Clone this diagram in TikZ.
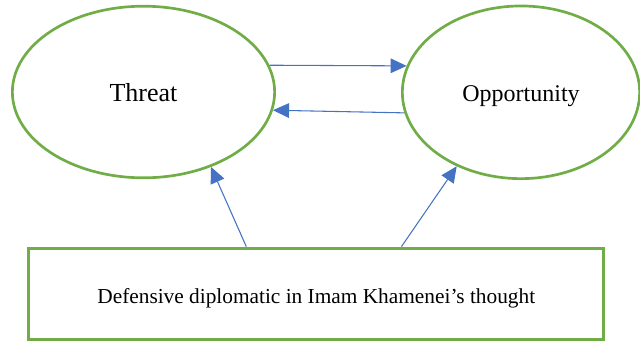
\documentclass[tikz,border=0pt]{standalone}
\usepackage{fontspec}
\setmainfont{Liberation Serif}
\usetikzlibrary{shapes.geometric,arrows.meta}
\definecolor{leafgreen}{HTML}{70AD47}
\definecolor{linkblue}{HTML}{4472C4}
\begin{document}
\begin{tikzpicture}[x=0.75pt,y=-0.75pt,
  bubble/.style={draw=leafgreen,line width=2pt,ellipse,inner sep=0pt,text depth=0pt},
  link/.style={draw=linkblue,line width=0.8pt,-{Triangle[length=12pt,width=11pt]},linkblue}]
\useasboundingbox (0,0) rectangle (640,344);
\node[bubble,minimum width=196.7pt,minimum height=128.7pt,text height=14.6pt,font=\fontsize{19.5}{22}\selectfont] (T) at (143.5,92) {Threat};
\node[bubble,minimum width=178pt,minimum height=129.5pt,text height=14pt,font=\fontsize{18}{21}\selectfont] (O) at (521,92.3) {Opportunity};
\node[draw=leafgreen,line width=2.2pt,minimum width=431.3pt,minimum height=68.6pt,text height=13.8pt,text depth=0pt,font=\fontsize{16}{19}\selectfont] (D) at (316.3,293.8) {Defensive diplomatic in Imam Khamenei’s thought};
\draw[link] (T.12) -- (O.167);
\draw[link] (O.190) -- (T.-8);
\draw[link] (D.146) -- (T.-48);
\draw[link] (D.29) -- (O.229);
\end{tikzpicture}
\end{document}
